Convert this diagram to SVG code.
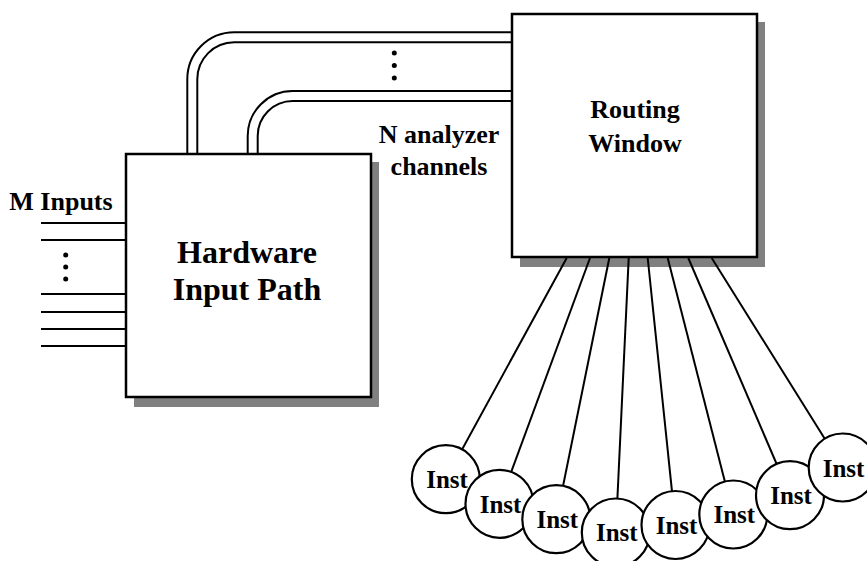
<svg xmlns="http://www.w3.org/2000/svg" width="867" height="561" viewBox="0 0 867 561">
<style>
text{font-family:"Liberation Serif","Times New Roman",serif;font-weight:bold;fill:#000}
.box{fill:#fff;stroke:#000;stroke-width:2.5}
.shadow{fill:#808080}
.ln{stroke:#000;stroke-width:2;fill:none}
.circ{fill:#fff;stroke:#000;stroke-width:2.2}
.lbl{font-size:26px;text-anchor:middle}
.big{font-size:32px;text-anchor:middle}
.inst{font-size:25px;text-anchor:middle}
</style>
<rect width="867" height="561" fill="#fff"/>
<g id="hardware">
<rect class="shadow" x="134" y="162" width="245" height="245"/>
<rect class="box" x="126" y="154" width="245" height="243"/>
<text class="big" x="247" y="263">Hardware</text>
<text class="big" x="247" y="300">Input Path</text>
</g>
<g id="routing">
<rect class="shadow" x="520" y="22" width="245" height="245"/>
<rect class="box" x="512" y="14" width="245" height="243"/>
<text class="lbl" x="635" y="118">Routing</text>
<text class="lbl" x="635" y="152">Window</text>
</g>
<g id="connectors">
<path class="ln" d="M187.3,153 V79.3 A47,47 0 0 1 234.3,32.3 H512"/>
<path class="ln" d="M197.3,153 V79.3 A37,37 0 0 1 234.3,42.3 H512"/>
<path class="ln" d="M247.7,153 V136 A45,45 0 0 1 292.7,91 H512"/>
<path class="ln" d="M257.7,153 V136 A35,35 0 0 1 292.7,101 H512"/>
<circle cx="394.3" cy="53" r="2.5"/>
<circle cx="394.3" cy="65.5" r="2.5"/>
<circle cx="394.3" cy="78" r="2.5"/>
<line class="ln" x1="41" y1="223" x2="126" y2="223"/>
<line class="ln" x1="41" y1="240" x2="126" y2="240"/>
<line class="ln" x1="41" y1="294" x2="126" y2="294"/>
<line class="ln" x1="41" y1="312" x2="126" y2="312"/>
<line class="ln" x1="41" y1="329" x2="126" y2="329"/>
<line class="ln" x1="41" y1="346" x2="126" y2="346"/>
<circle cx="65.7" cy="255" r="2.5"/>
<circle cx="65.7" cy="267" r="2.5"/>
<circle cx="65.7" cy="279" r="2.5"/>
<line class="ln" x1="566.7" y1="258" x2="445.8" y2="479.2"/>
<line class="ln" x1="590" y1="258" x2="499.5" y2="503.8"/>
<line class="ln" x1="609.3" y1="258" x2="556.3" y2="519.2"/>
<line class="ln" x1="628.7" y1="258" x2="615.8" y2="532.5"/>
<line class="ln" x1="647.7" y1="258" x2="675.5" y2="525"/>
<line class="ln" x1="667.7" y1="258" x2="733.3" y2="514.5"/>
<line class="ln" x1="688.3" y1="258" x2="790" y2="495.2"/>
<line class="ln" x1="711.7" y1="258" x2="842.7" y2="467.5"/>
</g>
<text class="lbl" x="61" y="210">M Inputs</text>
<text class="lbl" x="439" y="143">N analyzer</text>
<text class="lbl" x="439" y="175">channels</text>
<g id="inst1"><circle class="circ" cx="445.8" cy="479.2" r="34"/><text class="inst" x="447" y="488">Inst</text></g>
<g id="inst2"><circle class="circ" cx="499.5" cy="503.8" r="34"/><text class="inst" x="500.5" y="512.6">Inst</text></g>
<g id="inst3"><circle class="circ" cx="556.3" cy="519.2" r="34"/><text class="inst" x="557.3" y="528">Inst</text></g>
<g id="inst4"><circle class="circ" cx="615.8" cy="532.5" r="34"/><text class="inst" x="616.8" y="541.3">Inst</text></g>
<g id="inst5"><circle class="circ" cx="675.5" cy="525" r="34"/><text class="inst" x="676.5" y="533.8">Inst</text></g>
<g id="inst6"><circle class="circ" cx="733.3" cy="514.5" r="34"/><text class="inst" x="734.3" y="523.3">Inst</text></g>
<g id="inst7"><circle class="circ" cx="790" cy="495.2" r="34"/><text class="inst" x="791" y="504">Inst</text></g>
<g id="inst8"><circle class="circ" cx="842.7" cy="467.5" r="34"/><text class="inst" x="843.5" y="476.5">Inst</text></g>
</svg>
